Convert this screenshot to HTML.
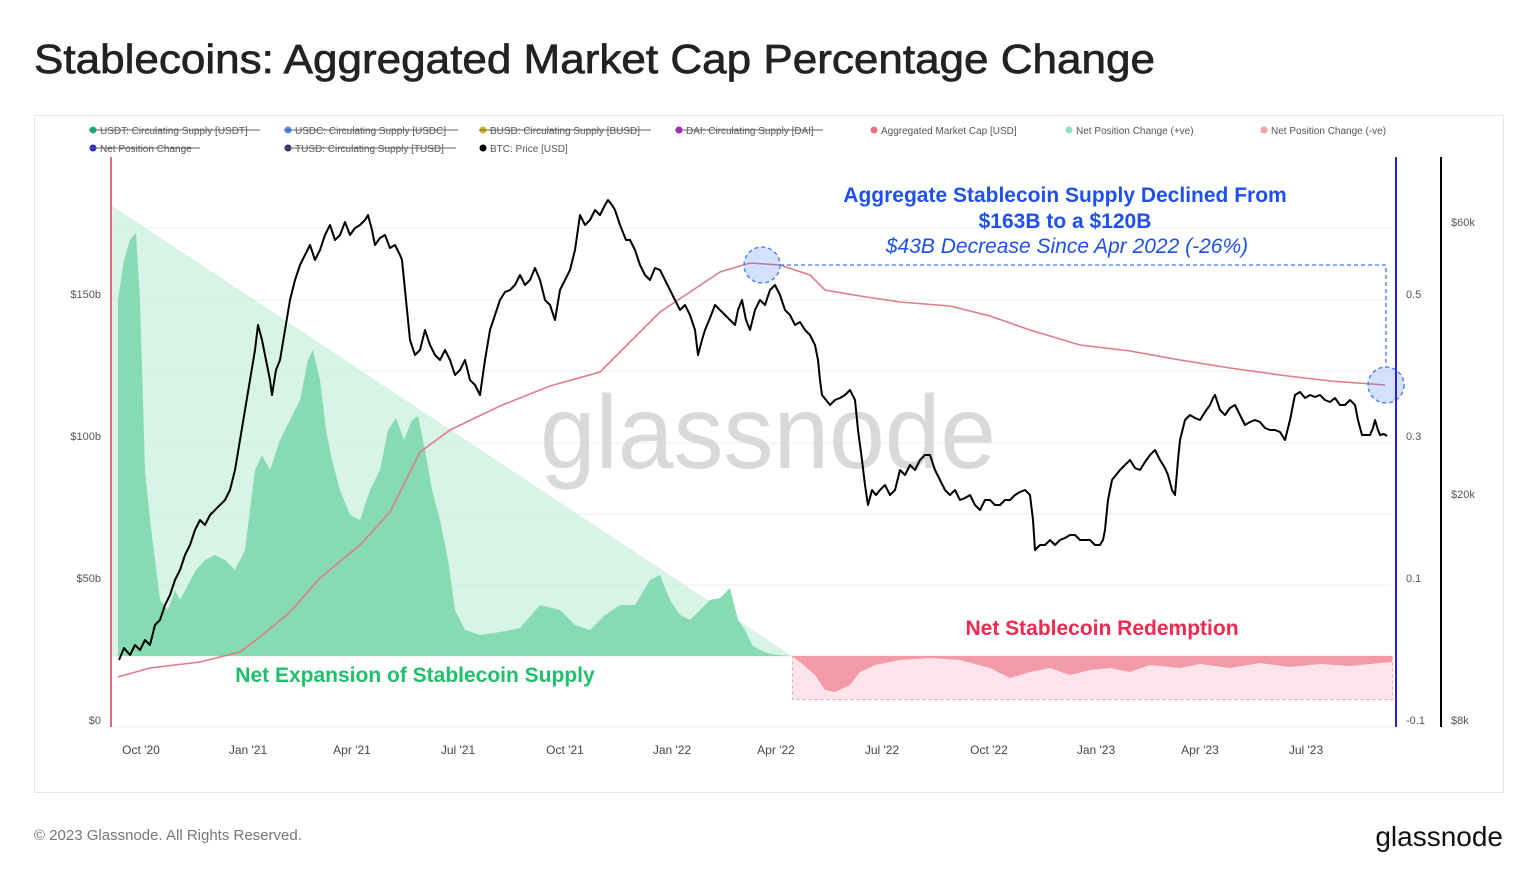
<!DOCTYPE html>
<html><head><meta charset="utf-8"><style>
body{margin:0;width:1536px;height:884px;background:#fff;font-family:"Liberation Sans",sans-serif;overflow:hidden}
</style></head><body>
<svg width="1536" height="884" xmlns="http://www.w3.org/2000/svg" font-family="Liberation Sans, sans-serif">
<rect x="0" y="0" width="1536" height="884" fill="#fff"/>
<text x="34" y="73" font-size="41" fill="#222" textLength="1121" lengthAdjust="spacingAndGlyphs" stroke="#222" stroke-width="0.7">Stablecoins: Aggregated Market Cap Percentage Change</text>
<rect x="34.5" y="115.5" width="1469" height="677" fill="#fff" stroke="#e6e6e6"/>
<!-- legend -->
<g font-size="10" fill="#555">
<circle cx="93" cy="130" r="3.5" fill="#1bb07a"/><text x="100" y="134">USDT: Circulating Supply [USDT]</text><line x1="89" y1="130" x2="260" y2="130" stroke="#666"/>
<circle cx="288" cy="130" r="3.5" fill="#4a8af4"/><text x="295" y="134">USDC: Circulating Supply [USDC]</text><line x1="284" y1="130" x2="458" y2="130" stroke="#666"/>
<circle cx="483" cy="130" r="3.5" fill="#d4b21e"/><text x="490" y="134">BUSD: Circulating Supply [BUSD]</text><line x1="479" y1="130" x2="651" y2="130" stroke="#666"/>
<circle cx="679" cy="130" r="3.5" fill="#b41fc8"/><text x="686" y="134">DAI: Circulating Supply [DAI]</text><line x1="675" y1="130" x2="823" y2="130" stroke="#666"/>
<circle cx="874" cy="130" r="3.5" fill="#e8727f"/><text x="881" y="134">Aggregated Market Cap [USD]</text>
<circle cx="1069" cy="130" r="3.5" fill="#8fe0bc"/><text x="1076" y="134">Net Position Change (+ve)</text>
<circle cx="1264" cy="130" r="3.5" fill="#f5a0ab"/><text x="1271" y="134">Net Position Change (-ve)</text>
<circle cx="93" cy="148" r="3.5" fill="#2a1ed8"/><text x="100" y="152">Net Position Change</text><line x1="89" y1="148" x2="200" y2="148" stroke="#666"/>
<circle cx="288" cy="148" r="3.5" fill="#2d2d7a"/><text x="295" y="152">TUSD: Circulating Supply [TUSD]</text><line x1="284" y1="148" x2="456" y2="148" stroke="#666"/>
<circle cx="483" cy="148" r="3.5" fill="#000"/><text x="490" y="152">BTC: Price [USD]</text>
</g>
<!-- gridlines -->
<g stroke="#ececec">
<line x1="111" y1="228" x2="1390" y2="228"/><line x1="111" y1="300" x2="1390" y2="300"/><line x1="111" y1="371" x2="1390" y2="371"/><line x1="111" y1="443" x2="1390" y2="443"/><line x1="111" y1="514" x2="1390" y2="514"/><line x1="111" y1="585" x2="1390" y2="585"/><line x1="111" y1="656" x2="1390" y2="656"/><line x1="111" y1="727" x2="1395" y2="727"/>
</g>
<!-- watermark -->
<text x="768" y="468" font-size="104" fill="#d9d9d9" text-anchor="middle" textLength="456" lengthAdjust="spacingAndGlyphs">glassnode</text>
<!-- triangle -->
<polygon points="111,205 792,656 111,656" fill="#c9f0de" opacity="0.75"/>
<!-- green histogram -->
<polygon fill="#86dbb3" points="118,656 118,300 124,260 130,240 136,233 140,300 145,470 150,520 155,560 160,600 168,610 175,590 180,600 188,585 196,570 205,560 215,555 225,560 235,570 245,550 255,470 262,455 270,470 280,440 290,420 300,400 308,360 313,350 320,380 326,430 332,460 340,490 350,515 360,520 370,490 380,470 388,430 396,418 404,440 412,420 418,416 425,450 432,490 440,520 448,560 455,610 465,630 480,635 500,632 520,628 540,605 560,610 575,625 590,630 605,615 620,605 635,605 650,580 660,575 670,600 680,615 690,620 700,610 710,600 720,598 730,588 738,620 745,630 752,645 760,650 770,654 790,656"/>
<!-- red region -->
<rect x="792.5" y="656.5" width="600" height="43" fill="#fde4ea" stroke="#f3a3b3" stroke-dasharray="3,3"/>
<polygon fill="#f29aa8" points="792,656 800,662 815,675 825,690 835,692 850,685 860,672 875,665 900,660 930,658 960,660 990,668 1010,678 1030,672 1050,668 1070,675 1090,670 1110,668 1130,672 1150,665 1180,668 1200,664 1230,668 1260,663 1290,667 1320,664 1350,666 1370,664 1392,662 1392,656"/>
<!-- aggregated mcap -->
<polyline fill="none" stroke="#e07b8a" stroke-width="1.6" points="118,677 150,668 200,662 240,652 260,637 290,612 320,578 360,545 390,512 405,482 420,452 450,430 500,406 550,386 600,372 630,342 660,312 690,292 720,272 750,263 780,265 810,275 825,290 860,296 900,302 950,306 990,316 1030,330 1080,345 1130,351 1180,360 1230,368 1280,375 1330,381 1385,385"/>
<!-- btc -->
<polyline fill="none" stroke="#000" stroke-width="2" stroke-linejoin="round" points="119,660 124,648 130,655 135,645 140,650 145,640 150,645 155,625 160,620 165,605 170,595 175,580 180,570 185,555 190,545 195,530 200,520 205,525 210,515 215,510 220,505 225,500 230,490 235,470 240,440 245,410 250,380 255,350 258,325 262,340 265,355 270,380 272,395 276,370 280,360 285,330 290,300 295,280 300,265 305,255 310,245 315,260 320,250 325,235 330,225 335,240 340,235 345,222 350,235 355,228 360,225 365,220 368,215 372,230 375,245 380,238 385,235 390,248 395,245 400,255 402,260 406,300 410,340 415,355 420,350 425,330 430,345 435,355 440,360 445,350 450,360 455,375 460,370 465,360 470,380 475,385 480,395 485,360 490,330 495,315 500,300 505,292 510,290 515,285 520,275 525,285 530,280 535,268 540,280 545,300 550,305 555,320 560,290 565,280 570,270 575,250 580,215 585,225 590,220 595,210 600,215 605,205 608,200 612,205 615,210 620,225 622,230 626,240 630,240 635,250 640,265 645,275 650,280 655,268 660,270 665,280 670,290 675,300 680,310 685,305 690,315 695,330 698,355 702,340 705,330 710,318 715,305 720,310 725,315 730,320 735,325 738,310 742,300 746,320 750,330 755,310 760,300 765,305 770,290 775,285 780,295 785,310 790,315 795,325 800,322 805,330 810,335 815,345 818,360 820,380 822,395 826,400 830,405 835,400 840,398 845,395 850,390 855,400 858,430 862,460 865,485 868,505 872,490 876,495 880,490 885,485 890,495 895,490 900,470 905,475 910,465 915,470 920,460 925,455 930,455 935,470 940,480 945,490 950,495 955,490 960,500 965,498 970,495 975,505 980,510 985,500 990,500 995,505 1000,505 1005,500 1010,500 1015,495 1020,492 1025,490 1030,495 1033,520 1035,550 1040,545 1045,545 1050,540 1055,545 1060,540 1065,538 1070,535 1075,535 1080,540 1085,540 1090,540 1095,545 1100,545 1103,540 1105,530 1108,500 1112,480 1116,475 1120,470 1125,465 1130,460 1135,468 1140,470 1145,462 1150,455 1155,450 1160,460 1165,468 1168,475 1172,490 1175,495 1178,460 1180,440 1185,420 1190,415 1195,418 1200,420 1205,412 1210,405 1213,398 1215,395 1220,410 1225,415 1230,408 1235,405 1240,415 1245,425 1250,422 1255,420 1260,422 1265,428 1270,430 1275,430 1280,432 1285,440 1290,420 1295,395 1300,392 1305,398 1310,395 1315,397 1320,395 1325,400 1330,402 1335,398 1340,405 1345,405 1350,400 1355,405 1358,420 1362,435 1366,435 1370,435 1373,428 1375,420 1378,430 1380,435 1384,434 1387,436"/>
<!-- annotations -->
<polyline points="780,265 1386,265 1386,367" fill="none" stroke="#3b78f0" stroke-width="1.3" stroke-dasharray="4,3"/>
<circle cx="762" cy="265" r="18" fill="#3b78f0" fill-opacity="0.22" stroke="#3b78f0" stroke-width="1.3" stroke-dasharray="4,3"/>
<circle cx="1386" cy="385" r="18" fill="#3b78f0" fill-opacity="0.22" stroke="#3b78f0" stroke-width="1.3" stroke-dasharray="4,3"/>
<g text-anchor="middle" fill="#1e50f0" font-size="21">
<text x="1065" y="202" font-weight="bold">Aggregate Stablecoin Supply Declined From</text>
<text x="1065" y="228" font-weight="bold">$163B to a $120B</text>
<text x="1067" y="253" font-style="italic">$43B Decrease Since Apr 2022 (-26%)</text>
</g>
<text x="415" y="682" text-anchor="middle" font-size="21" font-weight="bold" fill="#20c06a">Net Expansion of Stablecoin Supply</text>
<text x="1102" y="635" text-anchor="middle" font-size="21" font-weight="bold" fill="#ee2a50">Net Stablecoin Redemption</text>
<!-- axes -->
<line x1="111" y1="157" x2="111" y2="727" stroke="#e06a7a" stroke-width="2"/>
<line x1="1396" y1="157" x2="1396" y2="727" stroke="#2a1ed8" stroke-width="2"/>
<line x1="1441" y1="157" x2="1441" y2="727" stroke="#000" stroke-width="2"/>
<g font-size="11" fill="#555">
<text x="101" y="298" text-anchor="end">$150b</text><text x="101" y="440" text-anchor="end">$100b</text><text x="101" y="582" text-anchor="end">$50b</text><text x="101" y="724" text-anchor="end">$0</text>
<text x="1406" y="298">0.5</text><text x="1406" y="440">0.3</text><text x="1406" y="582">0.1</text><text x="1406" y="724">-0.1</text>
<text x="1451" y="226">$60k</text><text x="1451" y="498">$20k</text><text x="1451" y="724">$8k</text>
</g>
<g font-size="12" fill="#444" text-anchor="middle">
<text x="141" y="754">Oct '20</text><text x="248" y="754">Jan '21</text><text x="352" y="754">Apr '21</text><text x="458" y="754">Jul '21</text><text x="565" y="754">Oct '21</text><text x="672" y="754">Jan '22</text><text x="776" y="754">Apr '22</text><text x="882" y="754">Jul '22</text><text x="989" y="754">Oct '22</text><text x="1096" y="754">Jan '23</text><text x="1200" y="754">Apr '23</text><text x="1306" y="754">Jul '23</text>
</g>
<text x="34" y="840" font-size="15" fill="#777">© 2023 Glassnode. All Rights Reserved.</text>
<text x="1503" y="846" font-size="28" fill="#111" text-anchor="end">glassnode</text>
</svg>
</body></html>
